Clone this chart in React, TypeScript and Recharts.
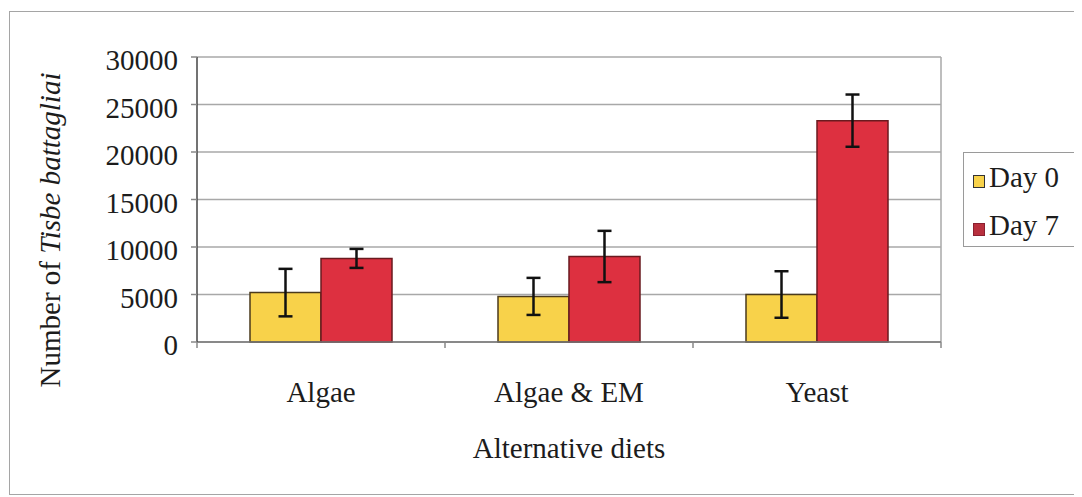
import { Bar, BarChart, CartesianGrid, ErrorBar, Legend, XAxis, YAxis } from "recharts";

const categories = ["Algae", "Algae & EM", "Yeast"];
const day0 = [5200, 4800, 5000];
const day0Err = [2500, 1950, 2450];
const day7 = [8800, 9000, 23300];
const day7Err = [1000, 2700, 2750];
const yTicks = [0, 5000, 10000, 15000, 20000, 25000, 30000];

const data = categories.map((name, i) => ({
  name,
  day0: day0[i],
  day0Err: day0Err[i],
  day7: day7[i],
  day7Err: day7Err[i],
}));

const FONT = "'Liberation Serif', 'Times New Roman', serif";
const FS = 29;
const INK = "#1c1c1c";
const YELLOW = "#f8d24a";
const RED = "#dd3040";

const YTick = (props: any) => {
  const { x, y, payload } = props;
  return (
    <text x={x} y={y} dy={13} textAnchor="end" fill={INK} fontSize={FS} fontFamily={FONT}>
      {payload.value}
    </text>
  );
};

const XTick = (props: any) => {
  const { x, y, payload } = props;
  const off = payload.offset ?? 124;
  const last = payload.value === categories[categories.length - 1];
  return (
    <g>
      <line x1={x - off} x2={x - off} y1={y} y2={y + 6} stroke="#888" strokeWidth={1.5} />
      {last && <line x1={x + off} x2={x + off} y1={y} y2={y + 6} stroke="#888" strokeWidth={1.5} />}
      <text x={x} y={y + 60} textAnchor="middle" fill={INK} fontSize={FS} fontFamily={FONT}>
        {payload.value}
      </text>
    </g>
  );
};

const LegendBox = (props: any) => {
  const items = props.payload || [];
  return (
    <div
      style={{
        position: "relative",
        width: 130,
        height: 95,
        border: "1.5px solid #9a9a9a",
        boxSizing: "border-box",
        background: "#fff",
        fontFamily: FONT,
        fontSize: FS,
        color: INK,
      }}
    >
      {items.map((it: any, i: number) => (
        <div key={it.value} style={{ position: "absolute", left: 9, top: 10 + i * 48, height: 28, lineHeight: "28px", whiteSpace: "nowrap" }}>
          <span
            style={{
              display: "inline-block",
              width: 12,
              height: 13,
              background: i === 0 ? it.color : "#b8303e",
              border: i === 0 ? "1.5px solid #333" : "1.5px solid #8a2030",
              marginRight: 4,
              verticalAlign: "-1px",
              boxSizing: "border-box",
            }}
          />
          {it.value}
        </div>
      ))}
    </div>
  );
};

export default function App() {
  return (
    <div style={{ position: "relative", width: 1074, height: 489, overflow: "hidden" }}>
      <div
        style={{
          position: "absolute",
          left: 1,
          top: 3,
          width: 1200,
          height: 484,
          border: "1.5px solid #a5a5a5",
          boxSizing: "border-box",
        }}
      />
      <div style={{ position: "absolute", left: 0, top: 0 }}>
        <BarChart
          width={1074}
          height={489}
          data={data}
          margin={{ top: 49, right: 141, bottom: 0, left: 0 }}
          barCategoryGap={53}
          barGap={0}
        >
          <CartesianGrid
            vertical={true}
            stroke="#a8a8a8"
            strokeWidth={1.5}
            verticalCoordinatesGenerator={({ offset }: any) => [offset.left + offset.width]}
          />
          <XAxis
            dataKey="name"
            height={155}
            tickSize={0}
            tickMargin={0}
            tickLine={false}
            axisLine={{ stroke: "#777", strokeWidth: 1.5 }}
            tick={<XTick />}
            interval={0}
            label={{
              content: (p: any) => {
                const vb = p.viewBox;
                return (
                  <text x={vb.x + vb.width / 2} y={vb.y + 116} textAnchor="middle" fill={INK} fontSize={FS} fontFamily={FONT}>
                    Alternative diets
                  </text>
                );
              },
            }}
          />
          <YAxis
            width={189}
            domain={[0, 30000]}
            ticks={yTicks}
            tickSize={6}
            tickMargin={13}
            tickLine={{ stroke: "#888", strokeWidth: 1.5 }}
            axisLine={{ stroke: "#444", strokeWidth: 1.5 }}
            tick={<YTick />}
            label={{
              content: () => (
                <text
                  x={52}
                  y={222}
                  transform="rotate(-90 52 222)"
                  textAnchor="middle"
                  fill={INK}
                  fontSize={FS}
                  fontFamily={FONT}
                >
                  Number of <tspan fontStyle="italic">Tisbe battagliai</tspan>
                </text>
              ),
            }}
          />
          <Legend
            layout="vertical"
            align="center"
            verticalAlign="middle"
            wrapperStyle={{ left: 955, top: 144, width: 130 }}
            content={<LegendBox />}
          />
          <Bar dataKey="day0" name="Day 0" fill={YELLOW} stroke="#4a3a1c" strokeWidth={1.5} isAnimationActive={false}>
            <ErrorBar dataKey="day0Err" width={7} stroke="#111" strokeWidth={2.5} direction="y" />
          </Bar>
          <Bar dataKey="day7" name="Day 7" fill={RED} stroke="#6a1a1f" strokeWidth={1.5} isAnimationActive={false}>
            <ErrorBar dataKey="day7Err" width={7} stroke="#111" strokeWidth={2.5} direction="y" />
          </Bar>
        </BarChart>
      </div>
    </div>
  );
}
